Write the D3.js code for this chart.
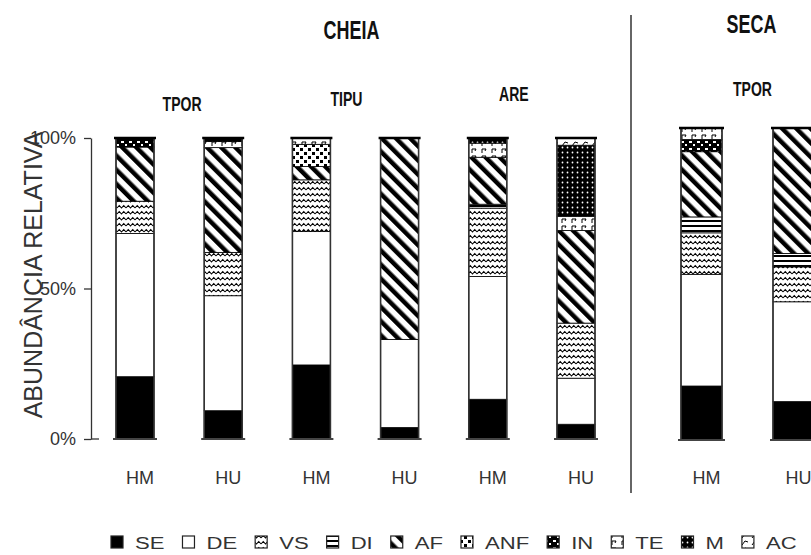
<!DOCTYPE html>
<html>
<head>
<meta charset="utf-8">
<script src="https://cdn.jsdelivr.net/npm/d3@7"></script>
<style>
  body { margin: 0; background: #fff; }
  svg { display: block; }
</style>
</head>
<body>
<svg id="main"></svg>
<script>
const width = 811;
const height = 555;

// categories (one per bar)
const bars = ['HM', 'HU', 'HM', 'HU', 'HM', 'HU', 'HM', 'HU'];
const seasons = ['CHEIA', 'CHEIA', 'CHEIA', 'CHEIA', 'CHEIA', 'CHEIA', 'SECA', 'SECA'];
const sites = ['TPOR', 'TPOR', 'TIPU', 'TIPU', 'ARE', 'ARE', 'TPOR', 'TPOR'];
const groups = ['SE', 'DE', 'VS', 'DI', 'AF', 'ANF', 'IN', 'TE', 'M', 'AC'];

// relative abundance (%) per group, one value per bar
const SE  = [20.7,  9.4, 24.6,  3.8, 13.2,  4.9, 17.3, 12.3];
const DE  = [47.6, 38.2, 44.3, 29.3, 40.8, 15.3, 35.8, 32.0];
const VS  = [10.7, 14.4, 17.2,  0,   22.7, 18.3, 13.3, 11.2];
const DI  = [ 0,    0,    0,    0,    1.3,  0,    5.1,  4.3];
const AF  = [18.0, 34.8,  4.4, 66.9, 15.6, 30.8, 20.9, 40.2];
const ANF = [ 0,    0,    7.4,  0,    0,    0,    0,    0  ];
const IN  = [ 3.0,  0,    0,    0,    0,    0,    3.9,  0  ];
const TE  = [ 0,    2.0,  2.1,  0,    4.7,  4.7,  3.7,  0  ];
const M   = [ 0,    1.2,  0,    0,    1.7, 23.6,  0,    0  ];
const AC  = [ 0,    0,    0,    0,    0,    2.4,  0,    0  ];
const yTicks = [0, 50, 100];

const values = { SE, DE, VS, DI, AF, ANF, IN, TE, M, AC };
const data = bars.map((b, i) => {
    const row = { idx: i, label: b, season: seasons[i], site: sites[i] };
    groups.forEach(g => { row[g] = values[g][i]; });
    return row;
});

const textFont = '"Liberation Sans", Arial, sans-serif';

const mainSvg = d3.select('#main').attr('width', width).attr('height', height);

// patterns
const defs = mainSvg.append('defs');
function pattern(id, w, h, bg, draw, transform) {
    const p = defs.append('pattern').attr('id', id)
        .attr('patternUnits', 'userSpaceOnUse')
        .attr('width', w).attr('height', h);
    if (transform) p.attr('patternTransform', transform);
    p.append('rect').attr('width', w).attr('height', h).attr('fill', bg);
    draw(p);
}
pattern('p-VS', 9, 6, '#fff', p => {
    p.append('path').attr('d', 'M0,4 L2.25,1.5 L4.5,4 L6.75,1.5 L9,4')
        .attr('fill', 'none').attr('stroke', '#000').attr('stroke-width', 1.1);
});
pattern('p-DI', 6, 5, '#fff', p => {
    p.append('rect').attr('y', 0).attr('width', 6).attr('height', 2).attr('fill', '#000');
});
pattern('p-AF', 10, 10, '#fff', p => {
    p.append('rect').attr('width', 4.5).attr('height', 10).attr('fill', '#000');
}, 'rotate(-45)');
pattern('p-ANF', 8, 8, '#fff', p => {
    p.append('rect').attr('x', 0).attr('y', 0).attr('width', 3).attr('height', 3).attr('fill', '#000');
    p.append('rect').attr('x', 4).attr('y', 4).attr('width', 3).attr('height', 3).attr('fill', '#000');
});
pattern('p-IN', 8, 7, '#000', p => {
    p.append('rect').attr('x', 1).attr('y', 1).attr('width', 3).attr('height', 2).attr('fill', '#fff');
    p.append('rect').attr('x', 5).attr('y', 4).attr('width', 2).attr('height', 2).attr('fill', '#fff');
});
pattern('p-TE', 10, 7, '#fff', p => {
    p.append('path').attr('d', 'M2,6 V2 H6 M6,2 L5,4')
        .attr('fill', 'none').attr('stroke', '#000').attr('stroke-width', 1);
});
pattern('p-M', 5, 5, '#000', p => {
    p.append('circle').attr('cx', 2.5).attr('cy', 2.5).attr('r', 0.9).attr('fill', '#fff');
});
pattern('p-AC', 10, 7, '#fff', p => {
    p.append('path').attr('d', 'M2,6 L5,2 L8,3')
        .attr('fill', 'none').attr('stroke', '#000').attr('stroke-width', 1);
});
const fillOf = {
    SE: '#000', DE: '#fff', VS: 'url(#p-VS)', DI: 'url(#p-DI)', AF: 'url(#p-AF)',
    ANF: 'url(#p-ANF)', IN: 'url(#p-IN)', TE: 'url(#p-TE)', M: 'url(#p-M)', AC: 'url(#p-AC)'
};

// scales: the SECA panel is drawn a bit larger than CHEIA
const xCheia = d3.scaleLinear().domain([0, 5]).range([135, 576]);
const xSeca = d3.scaleLinear().domain([6, 7]).range([701.5, 793.5]);
const yCheia = d3.scaleLinear().domain([0, 100]).range([439, 138]);
const ySeca = d3.scaleLinear().domain([0, 100]).range([440, 128]);
const xOf = d => (d.season === 'SECA' ? xSeca : xCheia)(d.idx);
const yOf = d => (d.season === 'SECA' ? ySeca : yCheia);
const bwOf = d => (d.season === 'SECA' ? 41 : 38);

// y axis
const yAxis = d3.axisLeft(yCheia).tickValues(yTicks).tickFormat(d => d + '%')
    .tickSize(7).tickSizeOuter(0).tickPadding(8);
const yAxisG = mainSvg.append('g').attr('transform', 'translate(91,0)').call(yAxis);
yAxisG.select('.domain').attr('stroke', '#333').attr('stroke-width', 1.3);
yAxisG.selectAll('.tick line').attr('stroke', '#333').attr('stroke-width', 1.3);
yAxisG.selectAll('.tick text').attr('font-family', textFont).attr('font-size', 18).attr('fill', '#333');
yAxisG.append('line').attr('x1', 0).attr('x2', 8)
    .attr('y1', yCheia(0)).attr('y2', yCheia(0))
    .attr('stroke', '#333').attr('stroke-width', 1.3);

mainSvg.append('text')
    .attr('transform', 'rotate(-90)')
    .attr('x', -275).attr('y', 42)
    .attr('text-anchor', 'middle')
    .attr('font-family', textFont).attr('font-size', 25).attr('fill', '#333')
    .text('ABUNDÂNCIA RELATIVA');

// stacked bars
const stacked = d3.stack().keys(groups)(data);
const segments = [];
stacked.forEach(s => s.forEach(p => {
    if (p[1] - p[0] > 0) segments.push({ key: s.key, y0: p[0], y1: p[1], d: p.data });
}));

mainSvg.append('g').selectAll('rect')
    .data(segments)
    .join('rect')
    .attr('x', s => xOf(s.d) - bwOf(s.d) / 2)
    .attr('width', s => bwOf(s.d))
    .attr('y', s => yOf(s.d)(s.y1))
    .attr('height', s => yOf(s.d)(s.y0) - yOf(s.d)(s.y1))
    .attr('fill', s => fillOf[s.key])
    .attr('stroke', '#000').attr('stroke-width', 0.8);

const totals = data.map(d => ({ d, total: d3.sum(groups, g => d[g]) }));
const outline = mainSvg.append('g');
outline.selectAll('rect')
    .data(totals)
    .join('rect')
    .attr('x', t => xOf(t.d) - bwOf(t.d) / 2)
    .attr('width', t => bwOf(t.d))
    .attr('y', t => yOf(t.d)(t.total))
    .attr('height', t => yOf(t.d)(0) - yOf(t.d)(t.total))
    .attr('fill', 'none').attr('stroke', '#333').attr('stroke-width', 1.6);
outline.selectAll('line.top')
    .data(totals)
    .join('line').attr('class', 'top')
    .attr('x1', t => xOf(t.d) - bwOf(t.d) / 2 - 2)
    .attr('x2', t => xOf(t.d) + bwOf(t.d) / 2 + 2)
    .attr('y1', t => yOf(t.d)(t.total)).attr('y2', t => yOf(t.d)(t.total))
    .attr('stroke', '#000').attr('stroke-width', 2.5);
outline.selectAll('line.bottom')
    .data(totals)
    .join('line').attr('class', 'bottom')
    .attr('x1', t => xOf(t.d) - bwOf(t.d) / 2 - 3)
    .attr('x2', t => xOf(t.d) + bwOf(t.d) / 2 + 3)
    .attr('y1', t => yOf(t.d)(0)).attr('y2', t => yOf(t.d)(0))
    .attr('stroke', '#444').attr('stroke-width', 2);

// bar labels
mainSvg.append('g').selectAll('text')
    .data(data)
    .join('text')
    .attr('x', d => xOf(d) + 5)
    .attr('y', 484)
    .attr('text-anchor', 'middle')
    .attr('font-family', textFont).attr('font-size', 18).attr('fill', '#333')
    .text(d => d.label);

// season divider
mainSvg.append('line')
    .attr('x1', 631).attr('x2', 631).attr('y1', 15).attr('y2', 493)
    .attr('stroke', '#333').attr('stroke-width', 1.5);

// season titles and site labels (condensed bold)
const seasonTitlePos = { CHEIA: { dx: -4, y: 39 }, SECA: { dx: 4, y: 33 } };
const siteLabelPos = {
    'CHEIA-TPOR': { dx: 3, y: 111 },
    'CHEIA-TIPU': { dx: -9, y: 106 },
    'CHEIA-ARE': { dx: -18, y: 101 },
    'SECA-TPOR': { dx: 5, y: 96 }
};

function condensedLabel(sel, size) {
    sel.append('text')
        .attr('transform', 'scale(0.78,1.12)')
        .attr('text-anchor', 'middle')
        .attr('font-family', textFont).attr('font-weight', 'bold').attr('font-size', size)
        .attr('fill', '#111')
        .text(g => g.text);
}

const seasonGroups = d3.groups(data, d => d.season).map(g => ({
    text: g[0],
    x: d3.mean(g[1], xOf) + seasonTitlePos[g[0]].dx,
    y: seasonTitlePos[g[0]].y
}));
mainSvg.append('g').selectAll('g')
    .data(seasonGroups)
    .join('g')
    .attr('transform', g => `translate(${g.x},${g.y})`)
    .call(condensedLabel, 23);

const siteGroups = d3.groups(data, d => d.season + '-' + d.site).map(g => ({
    text: g[1][0].site,
    x: d3.mean(g[1], xOf) + siteLabelPos[g[0]].dx,
    y: siteLabelPos[g[0]].y
}));
mainSvg.append('g').selectAll('g')
    .data(siteGroups)
    .join('g')
    .attr('transform', g => `translate(${g.x},${g.y})`)
    .call(condensedLabel, 18);

// legend
const legend = mainSvg.append('g');
let lx = 111;
groups.forEach(g => {
    legend.append('rect')
        .attr('x', lx).attr('y', 536).attr('width', 12).attr('height', 12)
        .attr('fill', fillOf[g]).attr('stroke', '#222').attr('stroke-width', 1.2);
    lx += 13 + 11;
    const t = legend.append('g').attr('transform', `translate(${lx},549)`)
        .append('text')
        .attr('transform', 'scale(1.3,1)')
        .attr('font-family', textFont).attr('font-size', 17).attr('fill', '#333')
        .text(g);
    lx += t.node().getComputedTextLength() * 1.3 + 18;
});
</script>
</body>
</html>
